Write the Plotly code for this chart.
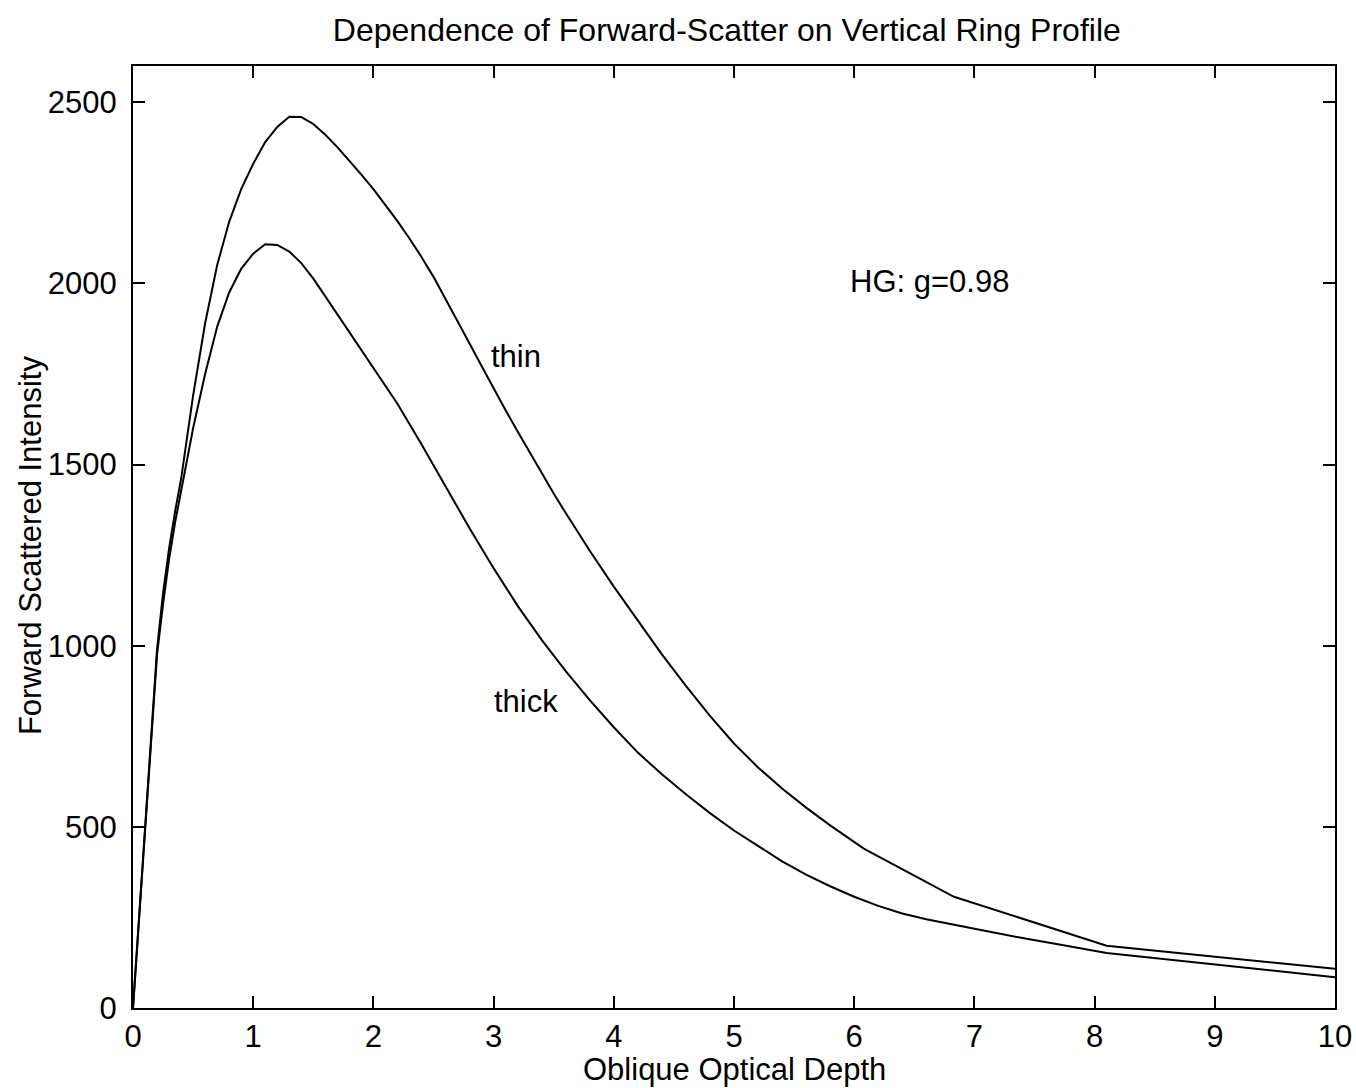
import plotly.graph_objects as go

# Data
thin_x = [0, 0.05, 0.1, 0.15, 0.2, 0.25, 0.3, 0.35, 0.4, 0.5, 0.6, 0.7, 0.8, 0.9,
          1.0, 1.1, 1.2, 1.3, 1.4, 1.5, 1.6, 1.7, 1.8, 1.9, 2.0, 2.1, 2.2, 2.3,
          2.4, 2.5, 2.6, 2.7, 2.8, 2.9, 3.0, 3.1, 3.2, 3.3, 3.4, 3.5, 3.6, 3.8,
          4.0, 4.2, 4.4, 4.6, 4.8, 5.0, 5.2, 5.4, 5.6, 5.8, 6.08, 6.83, 8.1, 10]
thin_y = [0, 250, 500, 750, 990, 1145, 1268, 1370, 1460, 1690, 1890, 2050, 2170, 2260,
          2330, 2390, 2432, 2460, 2459, 2440, 2410, 2376, 2339, 2300, 2260, 2217, 2172, 2124,
          2073, 2018, 1958, 1896, 1834, 1772, 1710, 1650, 1591, 1533, 1476, 1420, 1366, 1262,
          1163, 1068, 976, 889, 806, 730, 664, 606, 553, 504, 440, 307, 172, 108]

thick_x = [0, 0.05, 0.1, 0.15, 0.2, 0.25, 0.3, 0.35, 0.4, 0.5, 0.6, 0.7, 0.8, 0.9,
           1.0, 1.1, 1.2, 1.3, 1.4, 1.5, 1.6, 1.7, 1.8, 1.9, 2.0, 2.2, 2.4, 2.6,
           2.8, 3.0, 3.2, 3.4, 3.6, 3.8, 4.0, 4.2, 4.4, 4.6, 4.8, 5.0, 5.2, 5.4,
           5.6, 5.8, 6.0, 6.2, 6.4, 6.6, 6.8, 7.0, 7.4, 7.8, 8.1, 10]
thick_y = [0, 250, 500, 745, 975, 1115, 1238, 1340, 1430, 1600, 1750, 1880, 1975, 2040,
           2082, 2108, 2106, 2088, 2056, 2013, 1964, 1915, 1866, 1817, 1768, 1668, 1556, 1440,
           1324, 1214, 1110, 1016, 930, 850, 775, 705, 645, 590, 538, 490, 447, 405,
           368, 336, 307, 282, 261, 245, 232, 219, 193, 170, 152, 85]

x_ticks = [0, 1, 2, 3, 4, 5, 6, 7, 8, 9, 10]
y_ticks = [0, 500, 1000, 1500, 2000, 2500]

FONT = "Liberation Sans, Arial, Helvetica, sans-serif"

fig = go.Figure()
fig.add_trace(go.Scatter(x=thin_x, y=thin_y, mode="lines", name="thin",
                         line=dict(color="black", width=2)))
fig.add_trace(go.Scatter(x=thick_x, y=thick_y, mode="lines", name="thick",
                         line=dict(color="black", width=2)))

fig.add_annotation(x=6.63, y=2004, text="HG: g=0.98", showarrow=False,
                   font=dict(size=31, color="black", family=FONT))
fig.add_annotation(x=3.19, y=1797, text="thin", showarrow=False,
                   font=dict(size=31, color="black", family=FONT))
fig.add_annotation(x=3.27, y=846, text="thick", showarrow=False,
                   font=dict(size=31, color="black", family=FONT))
fig.add_annotation(x=0.5, y=-0.0648, xref="paper", yref="paper",
                   xanchor="center", yanchor="middle",
                   text="Oblique Optical Depth", showarrow=False,
                   font=dict(size=31, color="black", family=FONT))
fig.add_annotation(x=-0.0856, y=0.4915, xref="paper", yref="paper",
                   xanchor="center", yanchor="middle", textangle=-90,
                   text="Forward Scattered Intensity", showarrow=False,
                   font=dict(size=31, color="black", family=FONT))

fig.update_layout(
    width=1356, height=1088,
    margin=dict(l=133, r=21, t=66, b=80),
    paper_bgcolor="white", plot_bgcolor="white",
    showlegend=False,
    font=dict(family=FONT, size=31, color="black"),
    title=dict(text="Dependence of Forward-Scatter on Vertical Ring Profile",
               x=0.536, xanchor="center", xref="container",
               y=0.9724, yanchor="middle", yref="container",
               font=dict(size=32, family=FONT, color="black")),
)
fig.update_xaxes(range=[0, 10], tickvals=x_ticks, ticktext=[str(v) for v in x_ticks],
                 ticks="inside", ticklen=12, tickwidth=2, tickcolor="black",
                 showline=True, linewidth=2, linecolor="black", mirror="ticks",
                 showgrid=False, zeroline=False, ticklabelstandoff=0,
                 automargin=False,
                 tickfont=dict(size=31, family=FONT))
fig.update_yaxes(range=[0, 2600], tickvals=y_ticks, ticktext=[str(v) for v in y_ticks],
                 ticks="inside", ticklen=12, tickwidth=2, tickcolor="black",
                 showline=True, linewidth=2, linecolor="black", mirror="ticks",
                 showgrid=False, zeroline=False, ticklabelstandoff=8,
                 automargin=False,
                 tickfont=dict(size=31, family=FONT))

fig.write_html(
    "out.html",
    config={"displayModeBar": False},
    post_script="document.body.style.margin='0';document.body.style.overflow='hidden';",
)
